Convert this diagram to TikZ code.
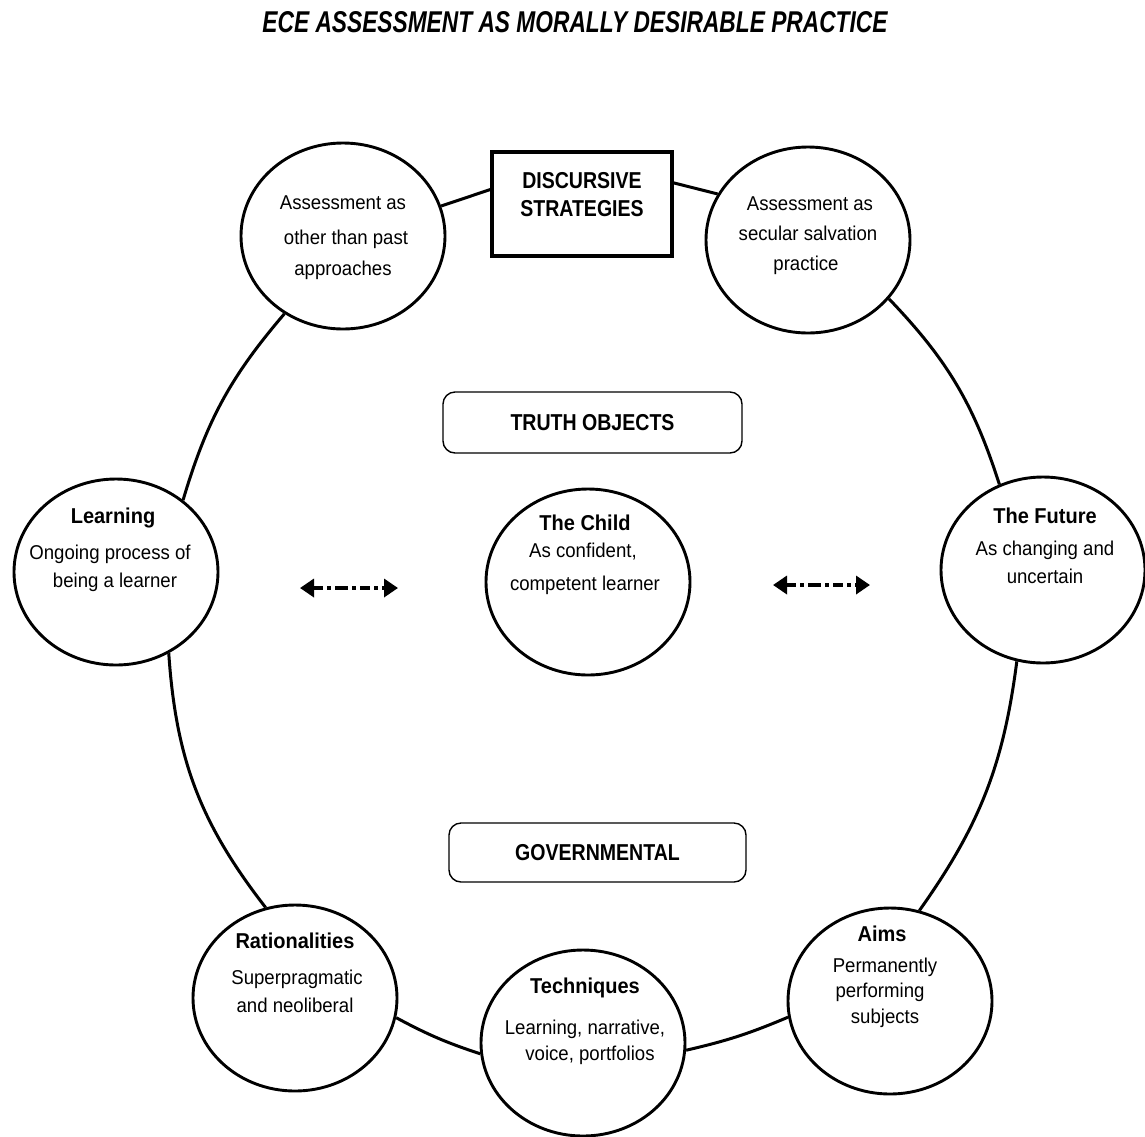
\documentclass[tikz,border=0pt]{standalone}
\usepackage{fontspec}
\setmainfont{Liberation Sans}[FakeStretch=0.93]
\newfontfamily\headfont{Liberation Sans}[FakeStretch=0.85]
\usetikzlibrary{shapes.geometric,arrows.meta}
\begin{document}
\begin{tikzpicture}[x=1pt,y=1pt,
  bubble/.style={ellipse,draw,line width=2.9pt,minimum width=204pt,minimum height=186pt,inner sep=0pt},
  sqbox/.style={rectangle,draw,line width=3.2pt,minimum width=180pt,minimum height=104pt,inner sep=0pt},
  rbox/.style={rectangle,draw,line width=1.4pt,rounded corners=12pt,inner sep=0pt,
     font=\headfont\fontsize{23}{26}\selectfont\bfseries},
  conn/.style={line width=3pt},
  txt/.style={anchor=base,inner sep=0pt,font=\fontsize{20}{24}\selectfont},
  hd/.style={anchor=base,inner sep=0pt,font=\fontsize{21.5}{26}\selectfont\bfseries},
  caps/.style={anchor=base,inner sep=0pt,font=\headfont\fontsize{23}{26}\selectfont\bfseries},
  dlink/.style={line width=3.8pt,{Triangle[width=18pt,length=14pt]}-{Triangle[width=18pt,length=14pt]},
     dash pattern=on 10pt off 4pt on 4pt off 4pt on 13pt off 4pt on 4pt off 4pt}
]
\useasboundingbox (0,0) rectangle (1145,-1136);
\fill[white] (0,0) rectangle (1145,-1136);

% title
\node[inner sep=0pt] (title) at (575,-22) {\resizebox{625pt}{21pt}{\headfont\bfseries\itshape ECE ASSESSMENT AS MORALLY DESIRABLE PRACTICE}};

% main nodes
\node[bubble] (A) at (343,-236) {};
\node[sqbox] (D) at (582,-204) {};
\node[bubble] (S) at (808,-240) {};
\node[bubble] (L) at (116,-572) {};
\node[bubble] (C) at (588,-582) {};
\node[bubble] (F) at (1043,-570) {};
\node[bubble] (R) at (295,-998) {};
\node[bubble] (T) at (583,-1043) {};
\node[bubble] (M) at (890,-1001) {};
\node[rbox,minimum width=299pt,minimum height=61pt] (TO) at (592.5,-422.5) {TRUTH OBJECTS};
\node[rbox,minimum width=297pt,minimum height=59pt] (GV) at (597.5,-852.5) {GOVERNMENTAL};

% connectors of the outer ring
\draw[conn] (L.47) to[bend left=12] (A.233);
\draw[conn] (A.17) -- (D.171);
\draw[conn] (D.13) -- (S.153);
\draw[conn] (S.324) to[bend left=13] (F.117);
\draw[conn] (F.254) to[bend left=14] (M.72);
\draw[conn] (M.189) to[bend left=5] (T.356);
\draw[conn] (T.186) to[bend left=5] (R.349);
\draw[conn] (R.108) to[bend left=17] (L.303);

% double arrows
\coordinate (la) at (300,-588);
\coordinate (lb) at (398,-588);
\coordinate (ra) at (773,-585);
\coordinate (rb) at (870,-585);
\draw[dlink] (la) -- (lb);
\draw[dlink] (ra) -- (rb);

% texts
\node[caps] (D1) at (582,-188) {DISCURSIVE};
\node[caps] (D2) at (582,-216) {STRATEGIES};

\node[txt] (A1) at (343,-209) {Assessment as};
\node[txt] (A2) at (346,-244) {other than past};
\node[txt] (A3) at (343,-275) {approaches};

\node[txt] (S1) at (810,-210) {Assessment as};
\node[txt] (S2) at (808,-240) {secular salvation};
\node[txt] (S3) at (806,-270) {practice};

\node[hd] (L1) at (113,-523) {Learning};
\node[txt] (L2) at (110,-559) {Ongoing process of};
\node[txt] (L3) at (115,-587) {being a learner};

\node[hd] (C1) at (585,-530) {The Child};
\node[txt] (C2) at (583,-557) {As confident,};
\node[txt] (C3) at (585,-590) {competent learner};

\node[hd] (F1) at (1045,-523) {The Future};
\node[txt] (F2) at (1045,-555) {As changing and};
\node[txt] (F3) at (1045,-583) {uncertain};

\node[hd] (R1) at (295,-948) {Rationalities};
\node[txt] (R2) at (297,-984) {Superpragmatic};
\node[txt] (R3) at (295,-1012) {and neoliberal};

\node[hd] (T1) at (585,-993) {Techniques};
\node[txt] (T2) at (585,-1034) {Learning, narrative,};
\node[txt] (T3) at (590,-1060) {voice, portfolios};

\node[hd] (M1) at (882,-941) {Aims};
\node[txt] (M2) at (885,-972) {Permanently};
\node[txt] (M3) at (880,-997) {performing};
\node[txt] (M4) at (885,-1023) {subjects};
\end{tikzpicture}
\end{document}
